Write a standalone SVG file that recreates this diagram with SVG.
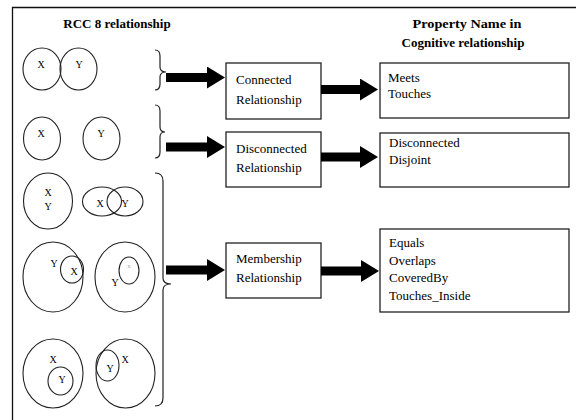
<svg xmlns="http://www.w3.org/2000/svg" width="576" height="420" viewBox="0 0 576 420">
  <defs>
    <style>
      .frame { stroke: #111; stroke-width: 1.3; fill: none; }
      .region { fill: none; stroke: #222; stroke-width: 1.1; }
      .brace { fill: none; stroke: #222; stroke-width: 1.2; }
      .box { fill: #fff; stroke: #222; stroke-width: 1.3; }
      .shaft { stroke: #000; stroke-width: 9; fill: none; }
      .head { fill: #000; }
      .hdr { font-family: "Liberation Serif", "Times New Roman", serif; font-weight: bold; font-size: 13px; fill: #000; }
      .lbl { font-family: "Liberation Serif", "Times New Roman", serif; font-size: 13px; fill: #000; }
      .rx { font-family: "Liberation Serif", "Times New Roman", serif; font-size: 10px; fill: #000; text-anchor: middle; }
      .faint { font-family: "Liberation Serif", "Times New Roman", serif; font-size: 7px; fill: #aaa; text-anchor: middle; }
    </style>
    <marker id="head" markerUnits="userSpaceOnUse" markerWidth="18" markerHeight="22" viewBox="0 0 18 22" refX="0" refY="11" orient="auto">
      <path class="head" d="M0,0 L18,11 L0,22 Z"/>
    </marker>
  </defs>

  <rect width="576" height="420" fill="#fff"/>

  <!-- outer frame: top and left edges only -->
  <path class="frame" d="M12.5,420 V7.5 H576"/>

  <!-- column headers -->
  <text class="hdr" x="117" y="28" text-anchor="middle">RCC 8 relationship</text>
  <text class="hdr" x="467" y="28" text-anchor="middle" textLength="109" lengthAdjust="spacingAndGlyphs">Property Name in</text>
  <text class="hdr" x="463" y="47" text-anchor="middle">Cognitive relationship</text>

  <!-- RCC8 region sketches -->
  <g id="rcc-externally-connected">
    <ellipse class="region" cx="42" cy="69" rx="19" ry="21"/>
    <ellipse class="region" cx="78.5" cy="69" rx="18.5" ry="21"/>
    <text class="rx" x="41" y="67.5">X</text>
    <text class="rx" x="79" y="67.5">Y</text>
  </g>
  <g id="rcc-disconnected">
    <ellipse class="region" cx="42" cy="138.5" rx="18.5" ry="21.5"/>
    <ellipse class="region" cx="101.5" cy="138.5" rx="18.5" ry="21.5"/>
    <text class="rx" x="41" y="137">X</text>
    <text class="rx" x="101" y="137">Y</text>
  </g>
  <g id="rcc-equal">
    <ellipse class="region" cx="48" cy="201" rx="24.5" ry="28"/>
    <text class="rx" x="48" y="196">X</text>
    <text class="rx" x="48" y="210">Y</text>
  </g>
  <g id="rcc-overlap">
    <ellipse class="region" cx="102" cy="201.5" rx="19.5" ry="14.5"/>
    <ellipse class="region" cx="125" cy="201.5" rx="18" ry="14.5"/>
    <text class="rx" x="100" y="207">X</text>
    <text class="rx" x="125" y="207">Y</text>
  </g>
  <g id="rcc-tangential-part">
    <ellipse class="region" cx="53" cy="277" rx="30" ry="35"/>
    <ellipse class="region" cx="72" cy="269.5" rx="11.5" ry="13.5"/>
    <text class="rx" x="54" y="267">Y</text>
    <text class="rx" x="74" y="275">X</text>
  </g>
  <g id="rcc-part">
    <ellipse class="region" cx="125" cy="277" rx="30" ry="35"/>
    <ellipse class="region" cx="129" cy="270.5" rx="10" ry="13.5"/>
    <text class="rx" x="115" y="286">Y</text>
    <text class="faint" x="129" y="268">x</text>
  </g>
  <g id="rcc-inverse-part">
    <ellipse class="region" cx="53" cy="373.5" rx="30" ry="34.5"/>
    <ellipse class="region" cx="60.5" cy="381" rx="12.5" ry="14"/>
    <text class="rx" x="53" y="363">X</text>
    <text class="rx" x="62" y="383">Y</text>
  </g>
  <g id="rcc-inverse-tangential-part">
    <ellipse class="region" cx="125.5" cy="373.5" rx="29.5" ry="34.5"/>
    <ellipse class="region" cx="107.5" cy="365.5" rx="11.5" ry="15.5"/>
    <text class="rx" x="110" y="372">Y</text>
    <text class="rx" x="125" y="363">X</text>
  </g>

  <!-- grouping braces -->
  <g id="braces">
    <path class="brace" d="M155,50 Q160,50 160,56 V67 Q160,72 166,72 Q160,72 160,77 V84 Q160,90 155,90"/>
    <path class="brace" d="M155,105 Q160,105 160,111 V127 Q160,132 165,132 Q160,132 160,137 V152 Q160,158 155,158"/>
    <path class="brace" d="M155,173 Q163,173 163,181 V278 Q163,284 171,284 Q163,284 163,290 V398 Q163,406 155,406"/>
  </g>

  <!-- relationship category nodes -->
  <g id="connected">
    <rect class="box" x="226" y="63" width="95" height="56"/>
    <text class="lbl" x="236" y="84">Connected</text>
    <text class="lbl" x="236" y="103.5">Relationship</text>
  </g>
  <g id="disconnected">
    <rect class="box" x="226" y="132" width="95" height="55"/>
    <text class="lbl" x="236" y="153">Disconnected</text>
    <text class="lbl" x="236" y="172">Relationship</text>
  </g>
  <g id="membership">
    <rect class="box" x="226" y="243" width="95" height="55"/>
    <text class="lbl" x="236" y="263">Membership</text>
    <text class="lbl" x="236" y="282">Relationship</text>
  </g>

  <!-- cognitive property nodes -->
  <g id="props-connected">
    <rect class="box" x="380" y="63" width="189" height="55"/>
    <text class="lbl" x="388" y="81.5">Meets</text>
    <text class="lbl" x="388" y="98">Touches</text>
  </g>
  <g id="props-disconnected">
    <rect class="box" x="380" y="133" width="189" height="54"/>
    <text class="lbl" x="389" y="147">Disconnected</text>
    <text class="lbl" x="389" y="163.5">Disjoint</text>
  </g>
  <g id="props-membership">
    <rect class="box" x="380" y="229" width="189" height="83"/>
    <text class="lbl" x="389" y="247">Equals</text>
    <text class="lbl" x="389" y="264.5">Overlaps</text>
    <text class="lbl" x="389" y="282">CoveredBy</text>
    <text class="lbl" x="389" y="299.5">Touches_Inside</text>
  </g>

  <!-- connectors -->
  <g id="connectors">
    <line class="shaft" x1="166" y1="77.5" x2="207" y2="77.5" marker-end="url(#head)"/>
    <line class="shaft" x1="321" y1="89.5" x2="360" y2="89.5" marker-end="url(#head)"/>
    <line class="shaft" x1="166" y1="147" x2="207" y2="147" marker-end="url(#head)"/>
    <line class="shaft" x1="321" y1="157" x2="360" y2="157" marker-end="url(#head)"/>
    <line class="shaft" x1="166" y1="270" x2="207" y2="270" marker-end="url(#head)"/>
    <line class="shaft" x1="321" y1="271" x2="361" y2="271" marker-end="url(#head)"/>
  </g>
</svg>
